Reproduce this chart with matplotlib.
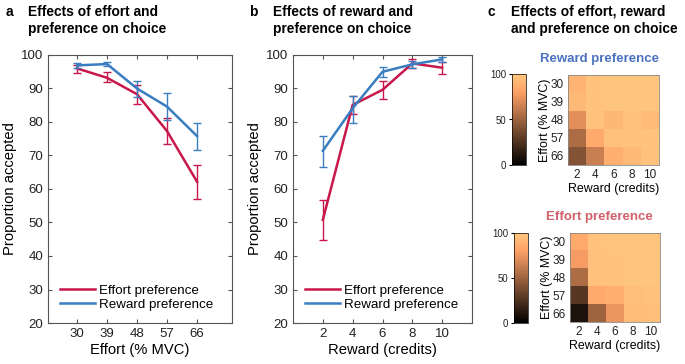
import numpy as np
import matplotlib
matplotlib.use("Agg")
from matplotlib import pyplot as plt

# ---- data ----
effort_levels = [30, 39, 48, 57, 66]
reward_levels = [2, 4, 6, 8, 10]

# panel a: acceptance by effort
a_effort_mean = [96.0, 93.2, 88.3, 77.3, 62.2]
a_effort_lo = [94.5, 91.8, 85.4, 73.5, 57.1]
a_effort_hi = [97.0, 95.0, 91.0, 81.3, 67.2]
a_reward_mean = [96.9, 97.3, 90.0, 84.6, 75.8]
a_reward_lo = [96.2, 96.7, 87.6, 80.6, 71.5]
a_reward_hi = [97.7, 98.0, 92.3, 88.8, 79.8]

# panel b: acceptance by reward
b_effort_mean = [50.8, 85.1, 89.6, 97.5, 96.2]
b_effort_lo = [44.8, 82.3, 86.8, 96.0, 94.3]
b_effort_hi = [56.8, 87.9, 92.2, 98.7, 98.0]
b_reward_mean = [71.4, 84.1, 95.0, 97.2, 98.7]
b_reward_lo = [66.5, 79.6, 93.3, 96.0, 97.9]
b_reward_hi = [75.8, 87.9, 96.5, 98.2, 99.5]

# panel c: rows = effort 30..66, cols = reward 2..10
heat_reward = [[90, 98, 99, 99, 99],
               [93, 98, 99, 99, 99],
               [72, 97, 92, 98, 94],
               [55, 85, 97, 98, 98],
               [42, 64, 88, 93, 97]]
heat_effort = [[85, 98, 99, 99, 99],
               [78, 97, 98, 99, 99],
               [55, 97, 98, 99, 99],
               [28, 85, 88, 96, 97],
               [10, 50, 75, 95, 96]]

RED = "#C8174A"
BLUE = "#3A7DC0"
SPINE = "#555555"

plt.rcParams["font.family"] = ["Liberation Sans", "DejaVu Sans"]
W, H = 685, 364
fig = plt.figure(figsize=(W / 100, H / 100), dpi=100)


def rect(x0, y0, x1, y1):
    return [x0 / W, 1 - y1 / H, (x1 - x0) / W, (y1 - y0) / H]


def style_box(ax):
    for s in ax.spines.values():
        s.set_color(SPINE)
        s.set_linewidth(0.8)
    ax.tick_params(direction="in", top=True, right=True, length=3,
                   color=SPINE, labelsize=9.5, labelcolor="#222222")


def err_line(ax, x, mean, lo, hi, color, label):
    mean = np.array(mean)
    yerr = [mean - np.array(lo), np.array(hi) - mean]
    ax.errorbar(x, mean, yerr=yerr, fmt="none", ecolor=color,
                elinewidth=1.0, capsize=3, capthick=1.0)
    ax.plot(x, mean, color=color, lw=1.8, label=label)


def line_panel(r, x, e_m, e_lo, e_hi, r_m, r_lo, r_hi, xlim, xlabel):
    ax = fig.add_axes(rect(*r))
    err_line(ax, x, e_m, e_lo, e_hi, RED, "Effort preference")
    err_line(ax, x, r_m, r_lo, r_hi, BLUE, "Reward preference")
    ax.set_xlim(*xlim)
    ax.set_ylim(20, 100)
    ax.set_xticks(x)
    ax.set_yticks(range(20, 101, 10))
    ax.set_xlabel(xlabel, fontsize=10.6, labelpad=2)
    ax.set_ylabel("Proportion accepted", fontsize=10.6, labelpad=3)
    style_box(ax)
    ax.legend(loc="lower left", frameon=False, fontsize=9.6, handlelength=2.6,
              handletextpad=0.3, borderaxespad=0.5, labelspacing=0.15)
    return ax


line_panel((48, 55, 232, 323), effort_levels,
           a_effort_mean, a_effort_lo, a_effort_hi,
           a_reward_mean, a_reward_lo, a_reward_hi,
           (21.3, 76.5), "Effort (% MVC)")
line_panel((293, 55, 472, 323), reward_levels,
           b_effort_mean, b_effort_lo, b_effort_hi,
           b_reward_mean, b_reward_lo, b_reward_hi,
           (0, 12), "Reward (credits)")


# panel c heatmaps
def heat(hrect, crect, data, title, tcolor, title_y):
    ax = fig.add_axes(rect(*hrect))
    im = ax.imshow(np.array(data), cmap="copper", vmin=0, vmax=100,
                   aspect="auto", interpolation="nearest")
    ax.set_xticks(range(len(reward_levels)))
    ax.set_xticklabels(reward_levels)
    ax.set_yticks(range(len(effort_levels)))
    ax.set_yticklabels(effort_levels)
    ax.tick_params(length=0, labelsize=8.5, pad=3, labelcolor="#222222")
    for s in ax.spines.values():
        s.set_color("#888888")
        s.set_linewidth(0.6)
    ax.set_xlabel("Reward (credits)", fontsize=8.9, labelpad=1)
    ax.set_ylabel("Effort (% MVC)", fontsize=8.9, labelpad=0)
    fig.text(599 / W, 1 - title_y / H, title, fontsize=9.5, fontweight="bold",
             color=tcolor, ha="center", va="center")
    cax = fig.add_axes(rect(*crect))
    cb = fig.colorbar(im, cax=cax, ticks=[0, 50, 100])
    cb.outline.set_linewidth(0.5)
    cax.yaxis.set_ticks_position("left")
    cax.tick_params(labelsize=6.9, length=2, pad=2, labelcolor="#222222")
    return ax


heat((568, 75, 659, 165), (512, 74, 526, 165), heat_reward,
     "Reward preference", "#4A72C0", 59)
heat((570, 233, 660, 322), (514, 233, 528, 323), heat_effort,
     "Effort preference", "#D0606A", 217)

# panel letters and titles
tkw = dict(fontsize=9.9, fontweight="bold", va="top", ha="left", linespacing=1.25)
fig.text(6 / W, 1 - 5 / H, "a", **tkw)
fig.text(28 / W, 1 - 5 / H, "Effects of effort and\npreference on choice", **tkw)
fig.text(249 / W, 1 - 5 / H, "b", **tkw)
fig.text(273 / W, 1 - 5 / H, "Effects of reward and\npreference on choice", **tkw)
fig.text(488 / W, 1 - 5 / H, "c", **tkw)
fig.text(511 / W, 1 - 5 / H, "Effects of effort, reward\nand preference on choice", **tkw)

fig.savefig("out.png", dpi=100)
